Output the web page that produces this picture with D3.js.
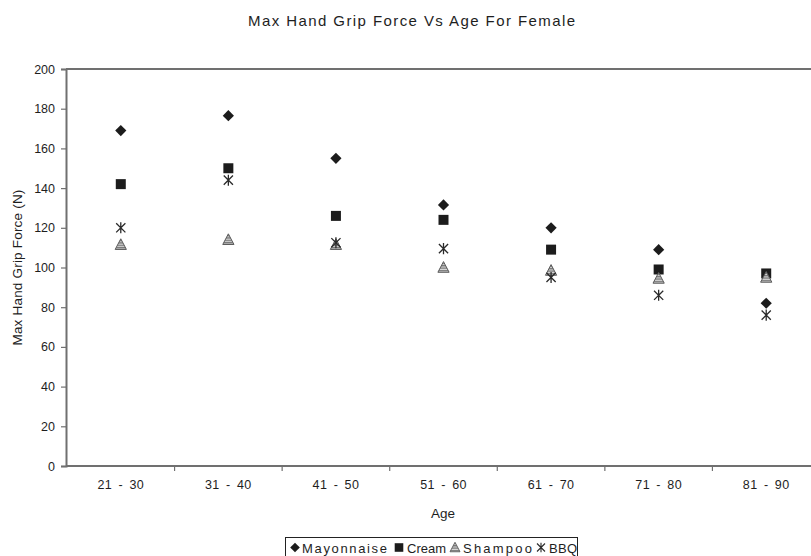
<!DOCTYPE html>
<html>
<head>
<meta charset="utf-8">
<script src="https://cdn.jsdelivr.net/npm/d3@7"></script>
<style>
  html, body { margin: 0; padding: 0; background: #fff; }
  svg { display: block; font-family: "Liberation Sans", Arial, sans-serif; }
</style>
</head>
<body>
<svg id="chart" width="811" height="556"></svg>
<script>
// ---- data ----
const categories = ["21 - 30", "31 - 40", "41 - 50", "51 - 60", "61 - 70", "71 - 80", "81 - 90"];
const mayonnaise = [169, 176.5, 155, 131.5, 120, 109, 82];
const cream      = [142, 150, 126, 124, 109, 99, 97];
const shampoo    = [111.5, 114, 111.5, 100, 98.5, 94.5, 95];
const bbq        = [120, 144, 112.5, 109.5, 95, 86, 76];
const yTicks     = [0, 20, 40, 60, 80, 100, 120, 140, 160, 180, 200];
const seriesNames = ["Mayonnaise", "Cream", "Shampoo", "BBQ"];

const titleText = "Max Hand Grip Force Vs Age For Female";
const xTitle = "Age";
const yTitle = "Max Hand Grip Force (N)";

// ---- layout ----
const svg = d3.select("#chart");
const pLeft = 66, pTop = 69, pBottom = 466, pRight = 820;
const axisColor = "#707070";
const textColor = "#1e1e1e";

const x = d3.scaleBand().domain(categories).range([pLeft + 1, pRight]);
const y = d3.scaleLinear().domain([0, 200]).range([pBottom, pTop]);

// stripe pattern for triangles
const defs = svg.append("defs");
const pat = defs.append("pattern").attr("id", "stripes")
  .attr("patternUnits", "userSpaceOnUse").attr("width", 4).attr("height", 2.4);
pat.append("rect").attr("width", 4).attr("height", 2.4).attr("fill", "#d6d6d6");
pat.append("rect").attr("width", 4).attr("height", 1.3).attr("fill", "#7a7a7a");

// symbols
const diamondType = { draw(ctx, s) { const r = s; ctx.moveTo(0, -r); ctx.lineTo(r, 0); ctx.lineTo(0, r); ctx.lineTo(-r, 0); ctx.closePath(); } };
const squareType  = { draw(ctx, s) { ctx.moveTo(-s, -s); ctx.lineTo(s, -s); ctx.lineTo(s, s); ctx.lineTo(-s, s); ctx.closePath(); } };
const triType     = { draw(ctx, s) { ctx.moveTo(0, -s * 1.05); ctx.lineTo(s, s * 0.85); ctx.lineTo(-s, s * 0.85); ctx.closePath(); } };
const starType    = { draw(ctx, s) {
  ctx.moveTo(-s, -s); ctx.lineTo(s, s);
  ctx.moveTo(s, -s); ctx.lineTo(-s, s);
  ctx.moveTo(0, -s * 1.2); ctx.lineTo(0, s * 1.2);
} };

const seriesDefs = [
  { name: seriesNames[0], values: mayonnaise, type: diamondType, size: 5.6, fill: "#1c1c1c", stroke: "none" },
  { name: seriesNames[1], values: cream,      type: squareType,  size: 5,   fill: "#1c1c1c", stroke: "none" },
  { name: seriesNames[2], values: shampoo,    type: triType,     size: 5.6, fill: "url(#stripes)", stroke: "#5a5a5a" },
  { name: seriesNames[3], values: bbq,        type: starType,    size: 4.6, fill: "none", stroke: "#2a2a2a" }
];

// ---- frame / axes ----
svg.append("line").attr("x1", pLeft).attr("x2", 811).attr("y1", pTop).attr("y2", pTop)
  .attr("stroke", axisColor).attr("stroke-width", 2);

const yAxis = svg.append("g").attr("transform", `translate(${pLeft},0)`)
  .call(d3.axisLeft(y).tickValues(yTicks).tickSize(5).tickPadding(6));
yAxis.select(".domain").attr("stroke", axisColor).attr("stroke-width", 2);
yAxis.selectAll(".tick line").attr("stroke", axisColor).attr("stroke-width", 1.2);
yAxis.selectAll(".tick text").attr("fill", textColor).attr("font-size", 12.5)
  .attr("font-family", "Liberation Sans, Arial, sans-serif");

const xAxis = svg.append("g").attr("transform", `translate(0,${pBottom})`)
  .call(d3.axisBottom(x).tickSize(0).tickPadding(14));
xAxis.select(".domain").remove();
xAxis.selectAll(".tick text").attr("fill", textColor).attr("font-size", 12.5)
  .attr("word-spacing", 2.5).attr("letter-spacing", 0.4)
  .attr("font-family", "Liberation Sans, Arial, sans-serif");
svg.append("line").attr("x1", pLeft).attr("x2", 811).attr("y1", pBottom).attr("y2", pBottom)
  .attr("stroke", axisColor).attr("stroke-width", 2);
// category boundary ticks
const boundaries = categories.map(c => x(c)).concat([x(categories[categories.length - 1]) + x.bandwidth()]);
svg.append("g").selectAll("line").data(boundaries.slice(1)).join("line")
  .attr("x1", d => d).attr("x2", d => d).attr("y1", pBottom).attr("y2", pBottom + 5)
  .attr("stroke", axisColor).attr("stroke-width", 1.2);

// ---- titles ----
svg.append("text").attr("x", 248).attr("y", 26)
  .attr("font-size", 15).attr("textLength", 327).attr("lengthAdjust", "spacing")
  .attr("fill", textColor).text(titleText);
svg.append("text").attr("x", (pLeft + pRight) / 2).attr("y", 518).attr("text-anchor", "middle")
  .attr("font-size", 13.5).attr("fill", textColor).text(xTitle);
svg.append("text").attr("transform", `translate(22,${(pTop + pBottom) / 2}) rotate(-90)`)
  .attr("text-anchor", "middle").attr("font-size", 13.5).attr("letter-spacing", 0.2)
  .attr("fill", textColor).text(yTitle);

// ---- points ----
const cx = x.bandwidth() / 2;
seriesDefs.forEach(s => {
  const sym = d3.symbol().type(s.type).size(s.size);
  svg.append("g").selectAll("path").data(s.values).join("path")
    .attr("d", sym)
    .attr("transform", (d, i) => `translate(${x(categories[i]) + cx},${y(d)})`)
    .attr("fill", s.fill).attr("stroke", s.stroke)
    .attr("stroke-width", s.type === starType ? 1.3 : 1);
});

// ---- legend ----
const lg = svg.append("g");
lg.append("rect").attr("x", 285.5).attr("y", 537.5).attr("width", 292).attr("height", 24)
  .attr("fill", "#fff").attr("stroke", "#222").attr("stroke-width", 1);
const legendItems = [
  { s: seriesDefs[0], mx: 295, tx: 302, tw: 85, size: 4.8 },
  { s: seriesDefs[1], mx: 399, tx: 407, tw: 39, size: 4.3 },
  { s: seriesDefs[2], mx: 455, tx: 463, tw: 69, size: 5 },
  { s: seriesDefs[3], mx: 541, tx: 549, tw: 28, size: 4 }
];
legendItems.forEach(it => {
  lg.append("path").attr("d", d3.symbol().type(it.s.type).size(it.size))
    .attr("transform", `translate(${it.mx},547.5)`)
    .attr("fill", it.s.type === triType ? "url(#stripes)" : it.s.fill)
    .attr("stroke", it.s.stroke).attr("stroke-width", it.s.type === starType ? 1.1 : 0.9);
  lg.append("text").attr("x", it.tx).attr("y", 552.5).attr("font-size", 13)
    .attr("textLength", it.tw).attr("lengthAdjust", "spacing")
    .attr("fill", textColor).text(it.s.name);
});
</script>
</body>
</html>
